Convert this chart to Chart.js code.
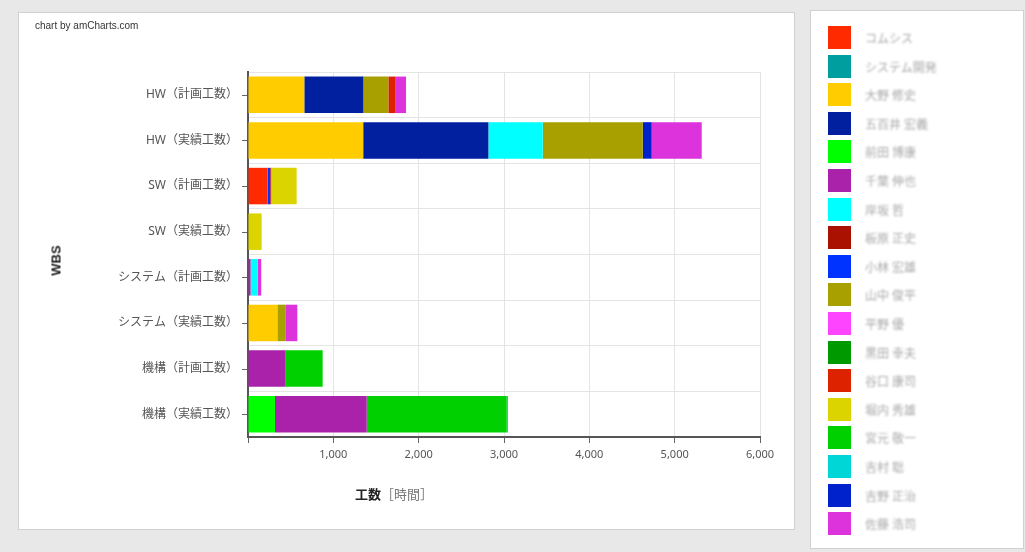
<!DOCTYPE html>
<html lang="ja">
<head>
<meta charset="UTF-8">
<title>WBS 工数</title>
<style>
  body { margin: 0; width: 1025px; height: 552px; background: #e8e8e8; overflow: hidden; position: relative;
         font-family: 'Noto Sans', 'Noto Sans CJK JP', sans-serif; }
  #panel { position: absolute; left: 18px; top: 12px; width: 775px; height: 516px; background: #fff; border: 1px solid #d0d0d0; }
  #chartWrap { position: absolute; left: 0; top: 0; width: 775px; height: 516px; }
  #credit { position: absolute; left: 16px; top: 7px; font-family: 'Liberation Sans', sans-serif; font-size: 10px; color: #333; }
  #yTitle { position: absolute; left: 17px; top: 240px; width: 40px; text-align: center; transform: rotate(-90deg);
            font-size: 13px; font-weight: bold; color: #222; font-family: 'Liberation Sans', sans-serif; }
  #xTitle { position: absolute; left: 336px; top: 471px; font-size: 13px; color: #777; }
  #xTitle b { color: #222; }
  #legend { position: absolute; left: 810px; top: 10px; width: 212px; height: 537px; background: #fff; border: 1px solid #d0d0d0; }
  .item { position: absolute; left: 17px; height: 23px; }
  .box { position: absolute; left: 0; top: 0; width: 23px; height: 23px; }
  .name { position: absolute; left: 37px; top: 3px; white-space: nowrap; font-size: 12px; color: #a8a8a8; filter: blur(1.2px); }
</style>
</head>
<body>
<div id="panel">
  <div id="chartWrap"><canvas id="wbsChart"></canvas></div>
  <div id="credit">chart by amCharts.com</div>
  <div id="yTitle">WBS</div>
  <div id="xTitle"><b>工数</b>［時間］</div>
</div>
<div id="legend"></div>

<script src="https://cdn.jsdelivr.net/npm/chart.js"></script>
<script>
// カテゴリ (上から順)
const categories = [
  'HW（計画工数）', 'HW（実績工数）', 'SW（計画工数）', 'SW（実績工数）',
  'システム（計画工数）', 'システム（実績工数）', '機構（計画工数）', '機構（実績工数）'
];

// 担当者 (凡例の順)
const members = [
  'コムシス', 'システム開発', '大野 修史', '五百井 宏義', '前田 博康', '千葉 伸也',
  '岸坂 哲', '板原 正史', '小林 宏雄', '山中 俊平', '平野 優', '黒田 幸夫',
  '谷口 康司', '堀内 秀雄', '宮元 敬一', '吉村 聡', '吉野 正治', '佐藤 浩司'
];

const memberColors = [
  '#ff2a00', '#009e9e', '#ffcc00', '#0020a0', '#00ff00', '#aa22aa',
  '#00ffff', '#aa1100', '#0033ff', '#a8a000', '#ff44ff', '#009900',
  '#dd2200', '#dcd400', '#00d000', '#00d6d6', '#0022cc', '#dd33dd'
];

// 担当者ごとの工数 [時間]、categories の順
const hours = [
  [0, 0, 230, 0, 0, 0, 0, 0],
  [0, 0, 0, 0, 0, 0, 0, 0],
  [660, 1350, 0, 0, 0, 344, 0, 0],
  [692, 1467, 0, 0, 0, 0, 0, 0],
  [0, 0, 0, 0, 0, 0, 0, 316],
  [0, 0, 0, 0, 30, 0, 441, 1075],
  [0, 637, 0, 0, 85, 0, 0, 0],
  [0, 0, 0, 0, 0, 0, 0, 0],
  [0, 0, 30, 0, 0, 0, 0, 0],
  [293, 1172, 0, 0, 0, 93, 0, 0],
  [0, 0, 0, 0, 0, 0, 0, 0],
  [0, 0, 0, 0, 0, 0, 0, 0],
  [78, 0, 12, 0, 0, 0, 0, 0],
  [0, 0, 298, 160, 0, 0, 0, 0],
  [0, 0, 0, 0, 0, 0, 434, 1641],
  [0, 0, 0, 0, 0, 0, 0, 15],
  [0, 105, 0, 0, 0, 0, 0, 0],
  [129, 586, 0, 0, 40, 141, 0, 0]
];

const xTicks = [0, 1000, 2000, 3000, 4000, 5000, 6000];

// y軸の目盛り線はカテゴリの中央に引く
const centerTicks = {
  id: 'centerTicks',
  afterDraw(chart) {
    const y = chart.scales.y;
    const ctx = chart.ctx;
    ctx.save();
    ctx.strokeStyle = '#666';
    ctx.lineWidth = 1;
    y.ticks.forEach((t, i) => {
      const py = Math.round(y.getPixelForTick(i)) + 0.5;
      ctx.beginPath();
      ctx.moveTo(y.right - 6, py);
      ctx.lineTo(y.right - 1, py);
      ctx.stroke();
    });
    ctx.restore();
  }
};

const datasets = members.map((name, i) => ({
  label: name,
  data: hours[i],
  backgroundColor: memberColors[i],
  borderWidth: 0,
  categoryPercentage: 0.8,
  barPercentage: 1
}));

new Chart(document.getElementById('wbsChart'), {
  type: 'bar',
  data: { labels: categories, datasets: datasets },
  plugins: [centerTicks],
  options: {
    indexAxis: 'y',
    responsive: true,
    maintainAspectRatio: false,
    animation: false,
    layout: { padding: { top: 59, right: 34, bottom: 0, left: 0 } },
    plugins: { legend: { display: false }, tooltip: { enabled: false } },
    scales: {
      x: {
        stacked: true,
        min: 0,
        max: 6000,
        afterBuildTicks: s => { s.ticks = xTicks.map(v => ({ value: v })); },
        afterFit: s => { s.height = 92; },
        grid: { color: '#e4e4e4', tickColor: '#666', tickLength: 6 },
        border: { color: '#555', width: 2 },
        ticks: {
          padding: 5,
          color: '#555',
          font: { family: 'Noto Sans', size: 11 },
          callback: v => v === 0 ? '' : v.toLocaleString('en-US')
        }
      },
      y: {
        stacked: true,
        afterFit: s => { s.width = 229; },
        grid: { color: '#e4e4e4', drawTicks: false },
        border: { color: '#555', width: 2 },
        ticks: {
          padding: 10,
          color: '#555',
          font: { family: "'Noto Sans', 'Noto Sans CJK JP'", size: 12 }
        }
      }
    }
  }
});

// 凡例
const legend = document.getElementById('legend');
members.forEach((name, i) => {
  const item = document.createElement('div');
  item.className = 'item';
  item.style.top = (15 + i * 28.6) + 'px';
  item.innerHTML = '<div class="box"></div><div class="name"></div>';
  item.querySelector('.box').style.background = memberColors[i];
  item.querySelector('.name').textContent = name;
  legend.appendChild(item);
});
</script>
</body>
</html>
